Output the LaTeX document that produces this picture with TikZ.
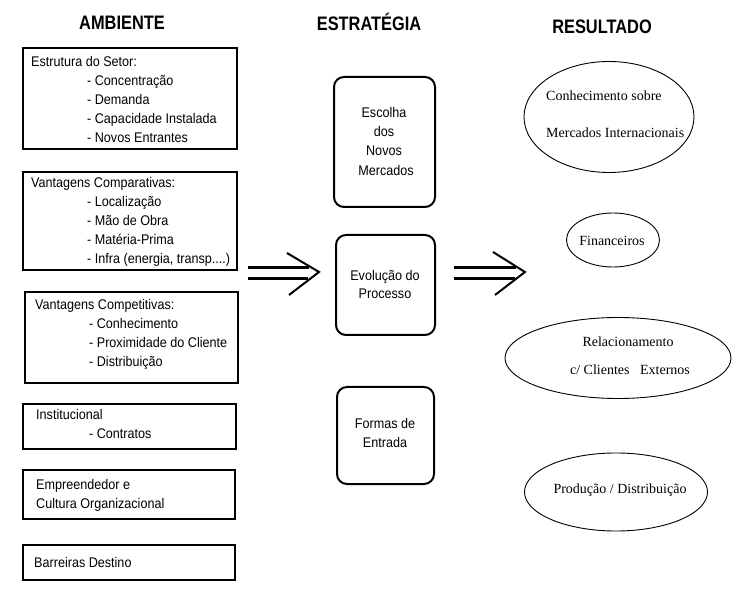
\documentclass[tikz,border=0pt]{standalone}
\usepackage{fontspec}
\setmainfont{Liberation Sans}
\newfontfamily\bodyfont[FakeStretch=0.9]{Liberation Sans}
\newfontfamily\headfont[FakeStretch=0.84]{Liberation Sans}
\newfontfamily\seriffont{Liberation Serif}
\usetikzlibrary{shapes.geometric}
\begin{document}
\begin{tikzpicture}[x=1pt,y=-1pt,
  lbl/.style={anchor=base west,inner sep=0pt,font=\bodyfont\fontsize{14}{16}\selectfont},
  clbl/.style={anchor=base,inner sep=0pt,font=\bodyfont\fontsize{14}{16}\selectfont},
  slbl/.style={anchor=base,inner sep=0pt,font=\seriffont\fontsize{14}{16}\selectfont},
  sllbl/.style={anchor=base west,inner sep=0pt,font=\seriffont\fontsize{14}{16}\selectfont},
  head/.style={anchor=base,inner sep=0pt,font=\headfont\bfseries\fontsize{19.5}{22}\selectfont},
  envbox/.style={draw,line width=1.3pt,inner sep=0pt},
  stratbox/.style={draw,line width=2pt,rounded corners=10pt,inner sep=0pt},
  resell/.style={draw,ellipse,line width=0.9pt,inner sep=0pt},
  shaft/.style={line width=3pt},
  tip/.style={line width=2pt,line join=miter}]
\useasboundingbox (0,0) rectangle (739,593);
% headings
\node[head] (hA) at (122,29.3) {AMBIENTE};
\node[head] (hE) at (369,30.7) {ESTRATÉGIA};
\node[head] (hR) at (602,33.3) {RESULTADO};
% environment boxes
\node[envbox,minimum width=214pt,minimum height=101pt] (b1) at (130,98.5) {};
\node[envbox,minimum width=214pt,minimum height=98pt] (b2) at (130,221) {};
\node[envbox,minimum width=213pt,minimum height=91pt] (b3) at (131.5,337.5) {};
\node[envbox,minimum width=213pt,minimum height=45pt] (b4) at (129.5,426.5) {};
\node[envbox,minimum width=212pt,minimum height=49pt] (b5) at (129,494.5) {};
\node[envbox,minimum width=212pt,minimum height=35pt] (b6) at (129,562.5) {};
% box 1 text
\node[lbl] (t11) at (31,66.7) {Estrutura do Setor:};
\node[lbl] (t12) at (87,85.7) {- Concentração};
\node[lbl] (t13) at (87,104.7) {- Demanda};
\node[lbl] (t14) at (87,123.7) {- Capacidade Instalada};
\node[lbl] (t15) at (87,142.7) {- Novos Entrantes};
% box 2 text
\node[lbl] (t21) at (31,187.5) {Vantagens Comparativas:};
\node[lbl] (t22) at (87,206.5) {- Localização};
\node[lbl] (t23) at (87,225.5) {- Mão de Obra};
\node[lbl] (t24) at (87,244.5) {- Matéria-Prima};
\node[lbl] (t25) at (87,263.5) {- Infra (energia, transp....)};
% box 3 text
\node[lbl] (t31) at (35,309.5) {Vantagens Competitivas:};
\node[lbl] (t32) at (89,328.5) {- Conhecimento};
\node[lbl] (t33) at (89,347.5) {- Proximidade do Cliente};
\node[lbl] (t34) at (89,366.5) {- Distribuição};
% box 4 text
\node[lbl] (t41) at (36,419.5) {Institucional};
\node[lbl] (t42) at (89,438.5) {- Contratos};
% box 5 text
\node[lbl] (t51) at (36,489.5) {Empreendedor e};
\node[lbl] (t52) at (36,508.5) {Cultura Organizacional};
% box 6 text
\node[lbl] (t61) at (34,567.5) {Barreiras Destino};
% strategy boxes
\node[stratbox,minimum width=101pt,minimum height=130pt] (rA) at (384.5,142) {};
\node[stratbox,minimum width=99pt,minimum height=100pt] (rB) at (385.5,285) {};
\node[stratbox,minimum width=97pt,minimum height=97pt] (rC) at (385.5,435.5) {};
\node[clbl] (sA1) at (384,117.5) {Escolha};
\node[clbl] (sA2) at (384,136.5) {dos};
\node[clbl] (sA3) at (384,155.5) {Novos};
\node[clbl] (sA4) at (386,175.5) {Mercados};
\node[clbl] (sB1) at (385,280.5) {Evolução do};
\node[clbl] (sB2) at (385,298.5) {Processo};
\node[clbl] (sC1) at (385,428.5) {Formas de};
\node[clbl] (sC2) at (385,447.5) {Entrada};
% result ellipses
\node[resell,minimum width=170pt,minimum height=111pt] (e1) at (609,117) {};
\node[resell,minimum width=93pt,minimum height=54pt] (e2) at (613,240) {};
\node[resell,minimum width=226pt,minimum height=81pt] (e3) at (618,358) {};
\node[resell,minimum width=183pt,minimum height=78pt] (e4) at (616,492) {};
\node[sllbl] (r11) at (546,100.5) {Conhecimento sobre};
\node[sllbl] (r12) at (546,137.5) {Mercados Internacionais};
\node[slbl] (r21) at (612,245.5) {Financeiros};
\node[slbl] (r31) at (628,346.5) {Relacionamento};
\node[slbl] (r32) at (630,374.5) {c/ Clientes\ \ \ Externos};
\node[slbl] (r41) at (620,493.5) {Produção / Distribuição};
% double arrows
\coordinate (L1s) at (248,268); \coordinate (L1e) at (309,268);
\coordinate (L2s) at (248,279); \coordinate (L2e) at (308,279);
\coordinate (Lh1) at (287,253); \coordinate (Lt) at (319,272); \coordinate (Lh2) at (289,295);
\coordinate (R1s) at (454,268); \coordinate (R1e) at (516,268);
\coordinate (R2s) at (454,279); \coordinate (R2e) at (515,279);
\coordinate (Rh1) at (493,252); \coordinate (Rt) at (525,272); \coordinate (Rh2) at (495,295);
\draw[shaft] (L1s) -- (L1e);
\draw[shaft] (L2s) -- (L2e);
\draw[tip] (Lh1) -- (Lt) -- (Lh2);
\draw[shaft] (R1s) -- (R1e);
\draw[shaft] (R2s) -- (R2e);
\draw[tip] (Rh1) -- (Rt) -- (Rh2);
\end{tikzpicture}
\end{document}
